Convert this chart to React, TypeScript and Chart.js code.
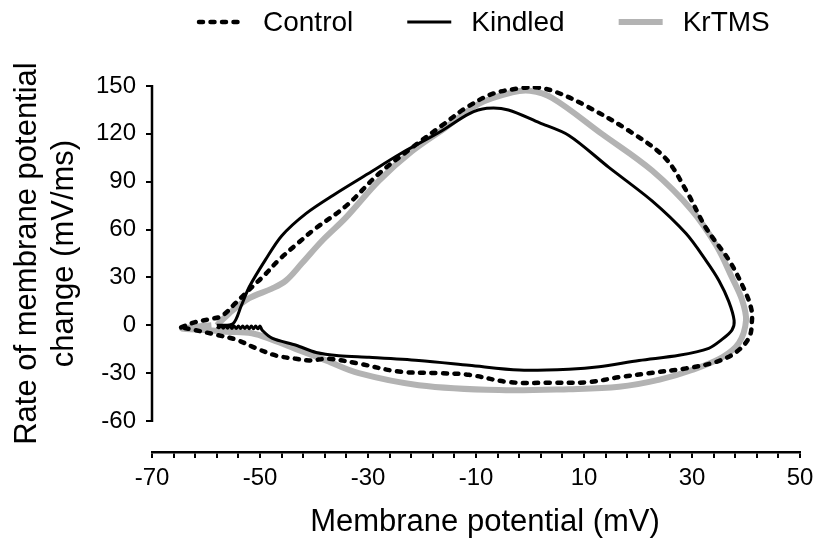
import React, { useEffect, useRef } from 'react';
import { Chart, registerables } from 'chart.js';

Chart.register(...registerables);

const FONT = '"Liberation Sans", Arial, Helvetica, sans-serif';

// ---- data (membrane potential mV, rate of change mV/ms) ----
const seriesNames = ['Control', 'Kindled', 'KrTMS'];

const controlV = [-64.6, -62, -59, -57, -54.5, -51.5, -49.3, -46.5, -42.8, -40, -34, -28, -22, -16, -12, -7, -2, 1.5, 5, 10.4, 18.3, 25, 29, 32.6, 37, 40, 41, 41.1, 40.6, 38.1, 34.4, 28.9, 22, 16.5, 10.9, 3.5, -3.9, -11.3, -16.9, -24.3, -31.7, -37.2, -40.9, -43.3, -47, -50.7, -54.4, -58, -62, -64.6];
const controlRate = [-1.3, 2, 4, 6, 14, 24, 31, 41, 52, 60, 75, 95, 111, 126, 136, 145, 148.5, 149, 146, 137.5, 122, 105, 84, 61, 40, 20, 10, 3, -7.5, -17, -23, -27, -30, -32.5, -35.6, -36, -35.6, -31, -30, -29, -24, -21, -22, -21, -19, -14.4, -9, -6, -3, -1.3];

const kindledV = [-58, -55, -53.5, -52, -49, -46, -41.5, -36, -30, -24, -16.3, -11.3, -8, -4, 1.7, 7.2, 14.6, 22.6, 28.9, 32.6, 35, 36.8, 37.8, 37.4, 35.5, 33.1, 27.6, 20.2, 12.8, 7.2, -2, -11.3, -20.6, -29.8, -35.4, -39.6, -43.3, -47.8, -49.6, -50, -50.4, -50.8, -51.2, -51.6, -52, -52.4, -52.8, -53.2, -53.6, -54, -54.4, -54.8, -55.2, -55.6, -56, -56.4, -56.8, -57.2, -57.6, -58];
const kindledRate = [0, 1, 12, 24, 41, 56, 70, 82.5, 95, 107.5, 122, 132.5, 136, 135, 127, 119, 99, 78, 57.5, 40.6, 28, 15, 3, -3, -9, -14.4, -18.8, -22, -26, -27.5, -28, -25, -22, -20, -19, -17, -12.5, -8, -3, -0.5, -2.2, -0.4, -2.2, -0.4, -2.2, -0.4, -2, -0.4, -2, -0.4, -2, -0.4, -2, -0.4, -1.8, -0.4, -1.8, -0.4, -1.6, -0.8];

const krtmsV = [-58, -55.7, -52, -47.8, -45.2, -42.2, -38.5, -34.1, -28, -21.9, -15.6, -9.4, -3.3, 0, 4.1, 13.3, 22.6, 30, 34.5, 37.4, 39.3, 40, 38.7, 35.6, 30, 24, 16.5, 7.2, -5.7, -20.6, -31.7, -37.8, -42.8, -47.8, -51.5, -56.3, -60, -64.4, -62, -59];
const krtmsRate = [0, 7.5, 17, 23, 28, 39, 53, 67.5, 90.6, 109, 124, 139, 146, 147, 142.5, 120, 97, 72, 50, 30, 15.6, 3, -11, -20, -28, -34, -38.5, -40, -40.6, -37.5, -30, -22, -15.6, -9, -5, -4, -3, -2, -1, 0];

// ---- axes / ticks ----
const xMin = -70;
const xMax = 50;
const xMinorStep = 4;
const xLabelValues = [-70, -50, -30, -10, 10, 30, 50];
const yTickValues = [-60, -30, 0, 30, 60, 90, 120, 150];
const yAxisBottom = -79.4;
const xTitle = 'Membrane potential (mV)';
const yTitleLines = ['Rate of membrane potential', 'change (mV/ms)'];

const zip = (xs: number[], ys: number[]) => xs.map((x, i) => ({ x, y: ys[i] }));

const decorPlugin = {
  id: 'decor',
  afterDraw(chart: any) {
    const ctx = chart.ctx as CanvasRenderingContext2D;
    const ys = chart.scales.y;
    const area = chart.chartArea;
    ctx.save();
    // y axis line (only over the ticked range)
    const yTop = ys.getPixelForValue(yTickValues[yTickValues.length - 1]);
    const yBot = ys.getPixelForValue(yTickValues[0]);
    ctx.strokeStyle = '#000';
    ctx.lineWidth = 2.5;
    ctx.beginPath();
    ctx.moveTo(area.left, yBot + 1);
    ctx.lineTo(area.left, yTop - 1);
    ctx.stroke();

    // y title (two lines, rotated)
    ctx.save();
    ctx.translate(27, (yTop + yBot) / 2);
    ctx.rotate(-Math.PI / 2);
    ctx.fillStyle = '#000';
    ctx.font = `31px ${FONT}`;
    ctx.textAlign = 'center';
    ctx.textBaseline = 'middle';
    yTitleLines.forEach((t, i) => ctx.fillText(t, 0, i * 37));
    ctx.restore();

    // x title
    ctx.fillStyle = '#000';
    ctx.font = `31px ${FONT}`;
    ctx.textAlign = 'center';
    ctx.textBaseline = 'middle';
    ctx.fillText(xTitle, (area.left + area.right) / 2 + 9, 522);

    // legend
    let lx = 199;
    const ly = 22;
    ctx.font = `28px ${FONT}`;
    ctx.textAlign = 'left';
    ctx.textBaseline = 'middle';
    chart.data.datasets.forEach((ds: any) => {
      ctx.save();
      ctx.strokeStyle = ds.borderColor;
      ctx.lineWidth = ds.borderWidth;
      ctx.setLineDash(ds.borderDash || []);
      ctx.lineCap = ds.borderCapStyle || 'butt';
      ctx.beginPath();
      ctx.moveTo(lx, ly);
      ctx.lineTo(lx + 44, ly);
      ctx.stroke();
      ctx.restore();
      ctx.fillStyle = '#000';
      ctx.fillText(ds.label, lx + 64, ly + 1);
      lx += 64 + ctx.measureText(ds.label).width + 54;
    });
    ctx.restore();
  },
};

export default function App() {
  const ref = useRef<HTMLCanvasElement | null>(null);

  useEffect(() => {
    if (!ref.current) return;
    const chart = new Chart(ref.current, {
      type: 'scatter',
      data: {
        datasets: [
          {
            label: seriesNames[0],
            data: zip(controlV, controlRate),
            showLine: true,
            borderColor: '#000',
            borderWidth: 4.5,
            borderDash: [4, 7.5],
            borderCapStyle: 'round',
            pointRadius: 0,
            tension: 0.35,
            fill: false,
          },
          {
            label: seriesNames[1],
            data: zip(kindledV, kindledRate),
            showLine: true,
            borderColor: '#000',
            borderWidth: 3,
            pointRadius: 0,
            tension: 0.3,
            fill: false,
          },
          {
            label: seriesNames[2],
            data: zip(krtmsV, krtmsRate),
            showLine: true,
            borderColor: '#b3b3b3',
            borderWidth: 6,
            pointRadius: 0,
            tension: 0.35,
            fill: false,
          },
        ],
      },
      options: {
        animation: false,
        responsive: false,
        maintainAspectRatio: false,
        layout: { padding: { top: 86, right: 22, left: 0, bottom: 0 } },
        plugins: {
          legend: { display: false },
          tooltip: { enabled: false },
        },
        scales: {
          x: {
            type: 'linear',
            min: xMin,
            max: xMax,
            afterFit: (axis: any) => {
              axis.height = 88;
            },
            afterBuildTicks: (axis: any) => {
              const t = [];
              for (let v = xMin; v <= xMax; v += xMinorStep) t.push({ value: v });
              axis.ticks = t;
            },
            border: { display: true, color: '#000', width: 2.5 },
            grid: {
              display: true,
              drawOnChartArea: false,
              drawTicks: true,
              tickLength: 6,
              color: '#000',
              lineWidth: 2,
            },
            ticks: {
              autoSkip: false,
              maxRotation: 0,
              padding: 6,
              color: '#000',
              font: { family: FONT, size: 24 },
              callback: (v: any) => (xLabelValues.includes(Number(v)) ? String(v) : ''),
            },
            title: { display: false },
          },
          y: {
            type: 'linear',
            min: yAxisBottom,
            max: yTickValues[yTickValues.length - 1],
            afterFit: (axis: any) => {
              axis.width = 152;
            },
            afterBuildTicks: (axis: any) => {
              axis.ticks = yTickValues.map((v) => ({ value: v }));
            },
            border: { display: false },
            grid: {
              display: true,
              drawOnChartArea: false,
              drawTicks: true,
              tickLength: 6,
              color: '#000',
              lineWidth: 2,
            },
            ticks: {
              autoSkip: false,
              padding: 10,
              color: '#000',
              font: { family: FONT, size: 24 },
            },
          },
        },
      },
      plugins: [decorPlugin],
    } as any);
    return () => chart.destroy();
  }, []);

  return (
    <div style={{ position: 'fixed', left: 0, top: 0, width: 822, height: 540, background: '#fff' }}>
      <canvas ref={ref} width={822} height={540} style={{ display: 'block', width: 822, height: 540 }} />
    </div>
  );
}
